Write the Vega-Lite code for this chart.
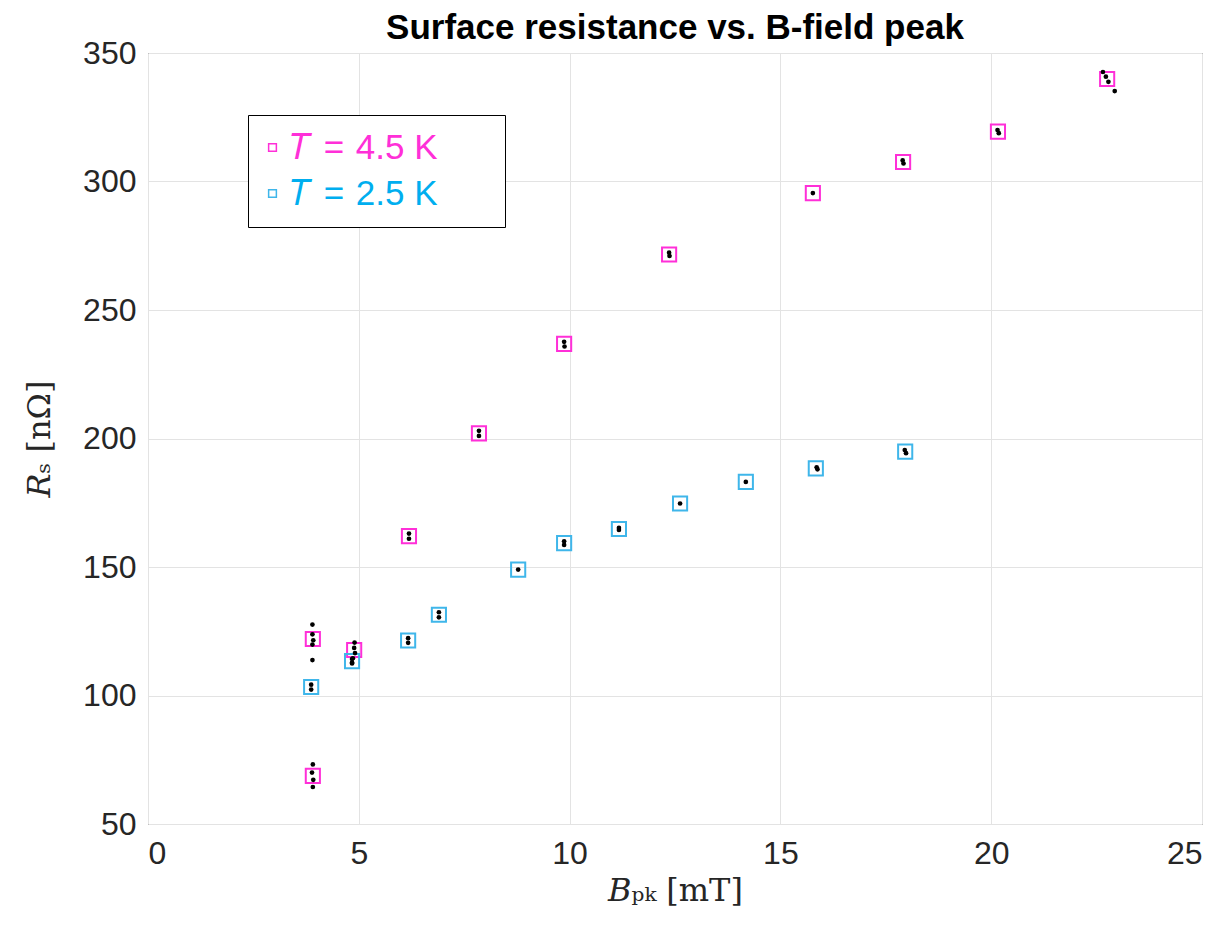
{
  "$schema": "https://vega.github.io/schema/vega-lite/v6.json",
  "autosize": {"type": "none"},
  "width": 1054,
  "height": 771,
  "padding": {"left": 148, "top": 53, "right": 26, "bottom": 118},
  "background": "white",
  "title": {"text": "Surface resistance vs. B-field peak", "font": "Liberation Sans", "fontSize": 35, "fontWeight": "bold", "color": "black", "offset": -9},
  "config": {
    "view": {"stroke": "#262626", "strokeWidth": 1},
    "axis": {"labelFont": "Liberation Sans", "labelFontSize": 32, "labelColor": "#262626", "gridColor": "#e3e3e3", "gridWidth": 1, "ticks": false, "domain": false, "titleFont": "DejaVu Serif", "titleFontSize": 32, "titleFontWeight": "normal", "titleColor": "#262626"}
  },
  "datasets": {
    "means": [
      {"B": 3.91, "Rs": 122.0, "T": "𝑇 = 4.5 K"},
      {"B": 3.91, "Rs": 68.7, "T": "𝑇 = 4.5 K"},
      {"B": 4.89, "Rs": 117.7, "T": "𝑇 = 4.5 K"},
      {"B": 6.19, "Rs": 162.0, "T": "𝑇 = 4.5 K"},
      {"B": 7.85, "Rs": 202.0, "T": "𝑇 = 4.5 K"},
      {"B": 9.87, "Rs": 236.8, "T": "𝑇 = 4.5 K"},
      {"B": 12.36, "Rs": 271.6, "T": "𝑇 = 4.5 K"},
      {"B": 15.77, "Rs": 295.5, "T": "𝑇 = 4.5 K"},
      {"B": 17.91, "Rs": 307.6, "T": "𝑇 = 4.5 K"},
      {"B": 20.16, "Rs": 319.4, "T": "𝑇 = 4.5 K"},
      {"B": 22.75, "Rs": 339.9, "T": "𝑇 = 4.5 K"},
      {"B": 3.87, "Rs": 103.3, "T": "𝑇 = 2.5 K"},
      {"B": 4.84, "Rs": 113.4, "T": "𝑇 = 2.5 K"},
      {"B": 6.17, "Rs": 121.4, "T": "𝑇 = 2.5 K"},
      {"B": 6.90, "Rs": 131.4, "T": "𝑇 = 2.5 K"},
      {"B": 8.78, "Rs": 149.0, "T": "𝑇 = 2.5 K"},
      {"B": 9.87, "Rs": 159.3, "T": "𝑇 = 2.5 K"},
      {"B": 11.17, "Rs": 164.8, "T": "𝑇 = 2.5 K"},
      {"B": 12.62, "Rs": 174.7, "T": "𝑇 = 2.5 K"},
      {"B": 14.18, "Rs": 183.1, "T": "𝑇 = 2.5 K"},
      {"B": 15.84, "Rs": 188.4, "T": "𝑇 = 2.5 K"},
      {"B": 17.96, "Rs": 194.9, "T": "𝑇 = 2.5 K"}
    ],
    "dots": [
      {"B": 3.90, "Rs": 127.6}, {"B": 3.90, "Rs": 123.8}, {"B": 3.92, "Rs": 121.5}, {"B": 3.90, "Rs": 119.8}, {"B": 3.90, "Rs": 113.8},
      {"B": 3.91, "Rs": 73.2}, {"B": 3.89, "Rs": 70.0}, {"B": 3.92, "Rs": 67.2}, {"B": 3.91, "Rs": 64.4},
      {"B": 4.90, "Rs": 120.6}, {"B": 4.89, "Rs": 118.5}, {"B": 4.91, "Rs": 116.5}, {"B": 4.86, "Rs": 114.5}, {"B": 4.84, "Rs": 112.8},
      {"B": 6.19, "Rs": 163.0}, {"B": 6.19, "Rs": 161.0},
      {"B": 7.85, "Rs": 203.0}, {"B": 7.85, "Rs": 201.0},
      {"B": 9.87, "Rs": 237.6}, {"B": 9.88, "Rs": 235.8},
      {"B": 12.36, "Rs": 272.3}, {"B": 12.37, "Rs": 271.0},
      {"B": 15.77, "Rs": 295.5},
      {"B": 17.90, "Rs": 308.2}, {"B": 17.92, "Rs": 307.0},
      {"B": 20.15, "Rs": 320.0}, {"B": 20.18, "Rs": 318.8},
      {"B": 22.65, "Rs": 342.6}, {"B": 22.72, "Rs": 340.8}, {"B": 22.78, "Rs": 338.8}, {"B": 22.93, "Rs": 335.2},
      {"B": 3.87, "Rs": 104.2}, {"B": 3.87, "Rs": 102.3},
      {"B": 4.84, "Rs": 114.2}, {"B": 4.84, "Rs": 112.5},
      {"B": 6.17, "Rs": 122.3}, {"B": 6.17, "Rs": 120.5},
      {"B": 6.90, "Rs": 132.4}, {"B": 6.90, "Rs": 130.4},
      {"B": 8.78, "Rs": 149.0},
      {"B": 9.87, "Rs": 160.0}, {"B": 9.87, "Rs": 158.6},
      {"B": 11.17, "Rs": 165.2}, {"B": 11.17, "Rs": 164.4},
      {"B": 12.62, "Rs": 174.7},
      {"B": 14.18, "Rs": 183.1},
      {"B": 15.86, "Rs": 188.8}, {"B": 15.88, "Rs": 188.0},
      {"B": 17.95, "Rs": 195.5}, {"B": 17.98, "Rs": 194.3}
    ]
  },
  "layer": [
    {
      "data": {"name": "means"},
      "mark": {"type": "point", "shape": "square", "filled": false, "size": 200, "strokeWidth": 2, "opacity": 1},
      "encoding": {
        "x": {"field": "B", "type": "quantitative", "scale": {"domain": [0, 25], "nice": false, "zero": false}, "axis": {"values": [0, 5, 10, 15, 20, 25], "title": "𝐵ₚₖ [mT]", "labelPadding": 14, "titlePadding": 6}},
        "y": {"field": "Rs", "type": "quantitative", "scale": {"domain": [50, 350], "nice": false, "zero": false}, "axis": {"values": [50, 100, 150, 200, 250, 300, 350], "title": "𝑅ₛ [nΩ]", "labelPadding": 12, "titlePadding": 26}},
        "color": {
          "field": "T", "type": "nominal",
          "scale": {"domain": ["𝑇 = 4.5 K", "𝑇 = 2.5 K"], "range": ["#ff2fd8", "#3fb6ea"]},
          "legend": {
            "title": null, "orient": "none", "legendX": 100, "legendY": 62,
            "strokeColor": "black", "fillColor": "white", "padding": 15,
            "symbolType": "square", "symbolSize": 60, "symbolStrokeWidth": 1.5, "symbolFillColor": "white", "symbolOffset": -8,
            "labelFont": "Liberation Sans", "labelFontSize": 35, "labelLimit": 600, "labelOffset": 0, "rowPadding": 10,
            "labelExpr": "replace(datum.label, ' = ', '\u2004=\u2004') + '\u2800\u2800'",
            "encoding": {"labels": {"fill": {"value": {"expr": "indexof(datum.label, '4.5') >= 0 ? '#ff2fd8' : '#00aeef'"}}}}
          }
        }
      }
    },
    {
      "data": {"name": "dots"},
      "mark": {"type": "circle", "size": 22, "color": "black", "opacity": 1},
      "encoding": {
        "x": {"field": "B", "type": "quantitative"},
        "y": {"field": "Rs", "type": "quantitative"}
      }
    }
  ]
}
